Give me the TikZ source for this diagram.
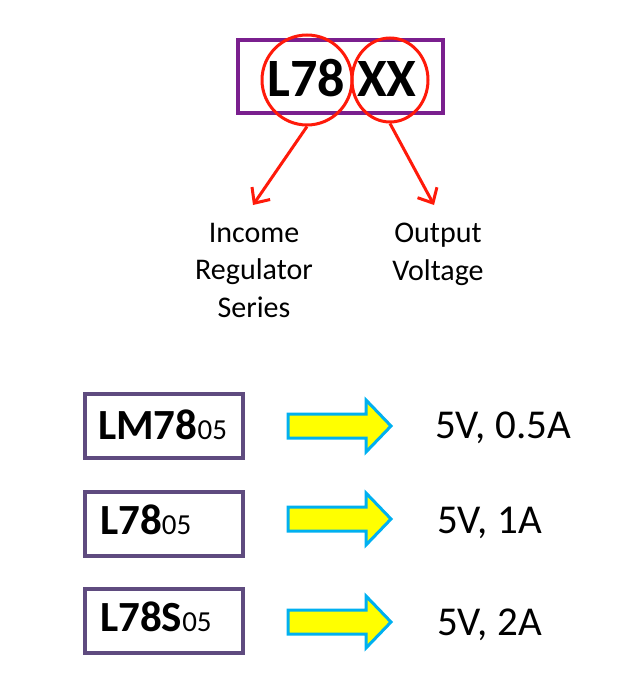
\documentclass[tikz,border=0pt]{standalone}
\usepackage{fontspec}
\setmainfont{Carlito}
\usetikzlibrary{arrows.meta,shapes.geometric}
\definecolor{toppurple}{HTML}{7A1F8E}
\definecolor{boxpurple}{HTML}{5F4B7F}
\definecolor{arrred}{HTML}{FF1A0A}
\definecolor{arrblue}{HTML}{00B0F0}
\definecolor{arryellow}{HTML}{FFFF00}
\tikzset{
  topbox/.style={draw=toppurple, line width=4.5pt, inner sep=0pt},
  partbox/.style={draw=boxpurple, line width=4pt, inner sep=0pt, minimum width=158pt, minimum height=64pt},
  redring/.style={draw=arrred, line width=3pt, ellipse, inner sep=0pt},
  redarrow/.style={draw=arrred, line width=3pt, -{Straight Barb[length=12pt,width=22pt,line width=3pt]}},
  yarrow/.style={draw=arrblue, fill=arryellow, line width=3pt, line join=miter},
  bigtxt/.style={inner sep=0pt, font=\fontsize{54}{54}\selectfont\bfseries},
  labtxt/.style={inner sep=0pt, align=center, font=\fontsize{30}{37.5}\selectfont},
  parttxt/.style={inner sep=0pt, anchor=base west, font=\fontsize{43}{43}\selectfont\bfseries},
  valtxt/.style={inner sep=0pt, anchor=base west, font=\fontsize{41}{41}\selectfont},
}
\newcommand{\smallsuffix}[1]{{\fontsize{29}{29}\selectfont\mdseries #1}}
\newcommand{\yellowarrow}[1]{%
  \path[yarrow] (288,{#1-12}) -- (366,{#1-12}) -- (366,{#1-26}) -- (391,#1)
    -- (366,{#1+26}) -- (366,{#1+12}) -- (288,{#1+12}) -- cycle;}
\begin{document}
\begin{tikzpicture}[x=1pt,y=-1pt]
\useasboundingbox (0,0) rectangle (641,688);
% top part number
\node[topbox, minimum width=205pt, minimum height=73pt] (top) at (340.5,76.5) {};
\node[bigtxt] (code) at (342,78) {L78 XX};
\node[redring, minimum width=90pt, minimum height=90pt] (c1) at (307,80) {};
\node[redring, minimum width=76pt, minimum height=84pt] (c2) at (390,80) {};
% labels
\node[labtxt, anchor=north] (lab1) at (254,223) {Income\\Regulator\\Series};
\node[labtxt, anchor=north] (lab2) at (438,223) {Output\\Voltage};
\coordinate (t1) at (253,205);
\coordinate (t2) at (434,205);
\draw[redarrow] (c1.south) -- (t1);
\draw[redarrow] (c2.south) -- (t2);
% part boxes
\node[partbox] (b1) at (164,426) {};
\node[partbox] (b2) at (164,523.5) {};
\node[partbox] (b3) at (164,620.5) {};
\node[parttxt] (p1) at (98,439) {LM78\smallsuffix{05}};
\node[parttxt] (p2) at (100,534) {L78\smallsuffix{05}};
\node[parttxt] (p3) at (100,631) {L78S\smallsuffix{05}};
% arrows
\yellowarrow{426}
\yellowarrow{519}
\yellowarrow{622}
% values
\node[valtxt] (v1) at (435,438) {5V, 0.5A};
\node[valtxt] (v2) at (437,533) {5V, 1A};
\node[valtxt] (v3) at (437,635) {5V, 2A};
\end{tikzpicture}
\end{document}
